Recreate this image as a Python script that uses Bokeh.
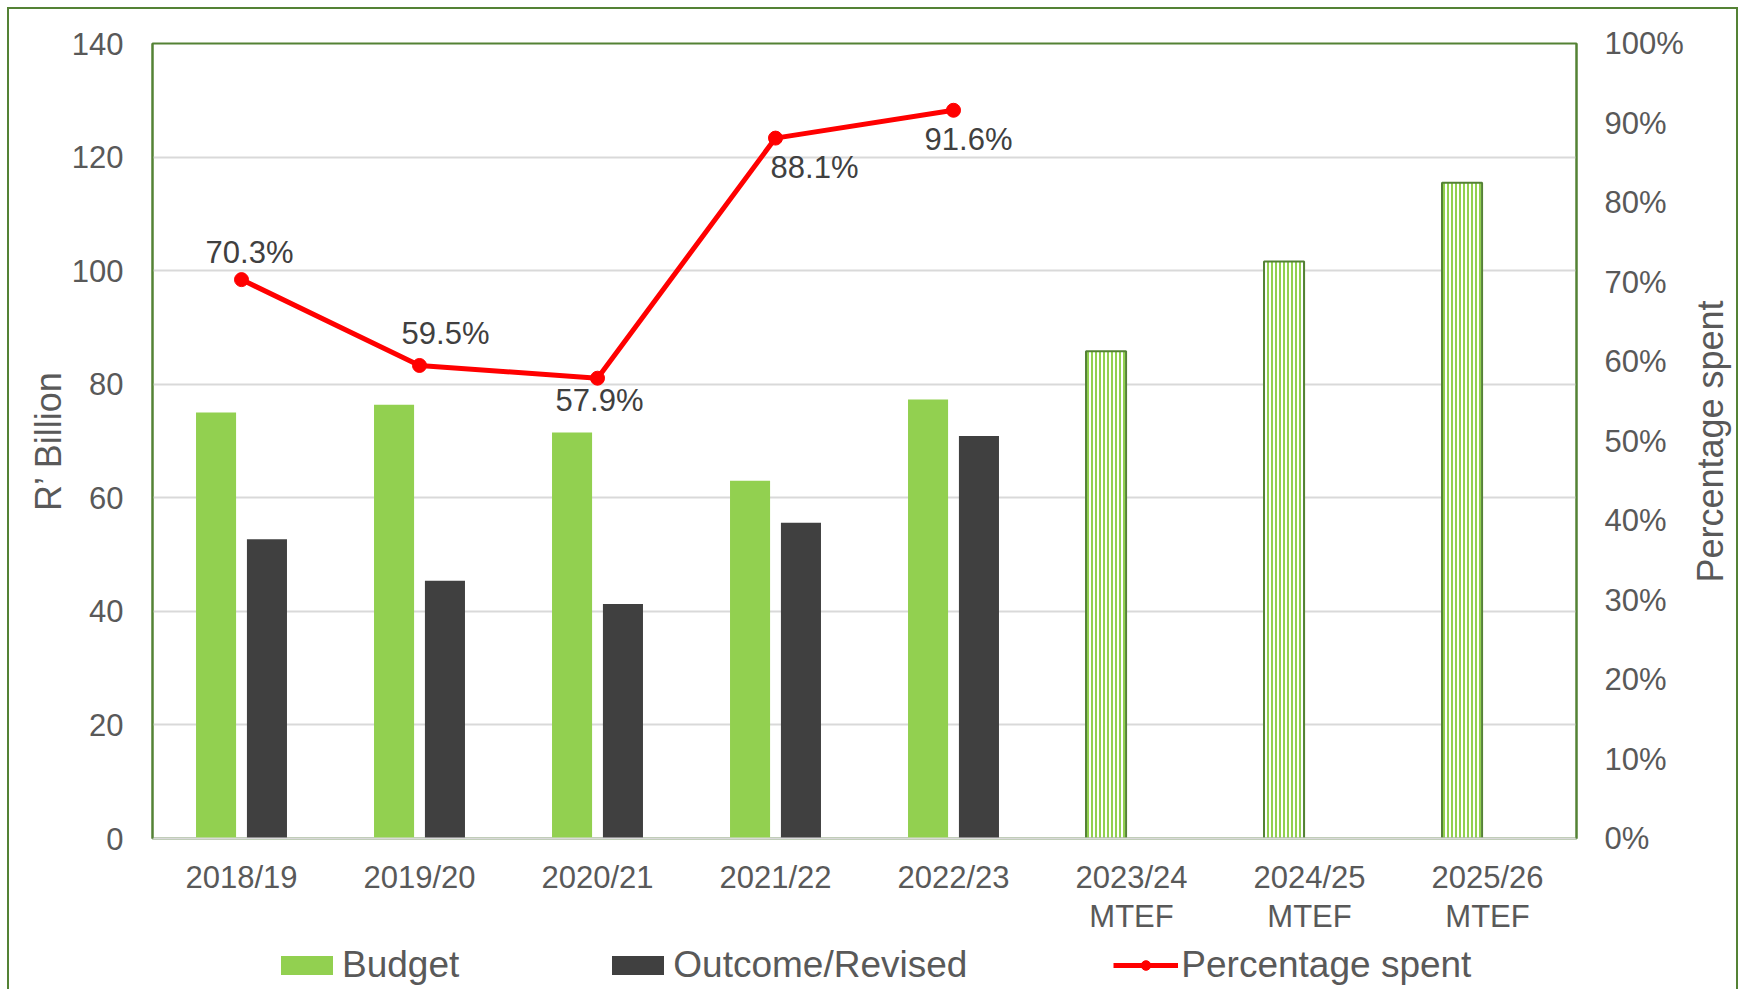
import math
from bokeh.plotting import figure
from bokeh.layouts import column, row
from bokeh.models import (ColumnDataSource, Range1d, LinearAxis, FixedTicker,
                          PrintfTickFormatter, Legend, LegendItem, LabelSet, Label)
from bokeh.transform import dodge
from bokeh.core.properties import value
from bokeh.embed import file_html
from bokeh.resources import INLINE

# ---------------- data ----------------
categories = ["2018/19", "2019/20", "2020/21", "2021/22", "2022/23",
              "2023/24\nMTEF", "2024/25\nMTEF", "2025/26\nMTEF"]
actual_years = ["2018/19", "2019/20", "2020/21", "2021/22", "2022/23"]
budget = [75.0, 76.4, 71.5, 63.0, 77.3]
outcome = [52.7, 45.4, 41.3, 55.6, 70.9]
mtef_years = ["2023/24\nMTEF", "2024/25\nMTEF", "2025/26\nMTEF"]
mtef_budget = [85.8, 101.6, 115.5]
pct_spent = [70.3, 59.5, 57.9, 88.1, 91.6]
pct_labels = ["70.3%", "59.5%", "57.9%", "88.1%", "91.6%"]
left_ticks = [0, 20, 40, 60, 80, 100, 120, 140]
right_ticks = [0, 10, 20, 30, 40, 50, 60, 70, 80, 90, 100]
legend_labels = ["Budget", "Outcome/Revised", "Percentage spent"]

# label placement (screen px) relative to each point
label_dx = [8, 26, 2, 39, 15]
label_dy = [27, 32, -22, -29, -29]

FONT = "Liberation Sans"
TXT = "#595959"
GREEN = "#92D050"
DARK = "#404040"
RED = "#FF0000"
FRAME_GREEN = "#548235"
GRID = "#D9D9D9"

src = ColumnDataSource(dict(year=actual_years, budget=budget, outcome=outcome,
                            pct=pct_spent, lab=pct_labels, dx=label_dx, dy=label_dy))
msrc = ColumnDataSource(dict(year=mtef_years, budget=mtef_budget))

# ---------------- main chart ----------------
p = figure(x_range=categories, y_range=Range1d(0, 140),
           width=1677, height=931, output_backend="svg", toolbar_location=None,
           min_border_left=143, min_border_right=108, min_border_top=34,
           min_border_bottom=102)
p.extra_y_ranges = {"pct": Range1d(0, 100)}

p.outline_line_color = FRAME_GREEN
p.outline_line_width = 2
p.background_fill_color = "white"
p.border_fill_color = "white"

p.xgrid.grid_line_color = None
p.ygrid.grid_line_color = GRID
p.ygrid.grid_line_width = 2
p.ygrid.ticker = FixedTicker(ticks=left_ticks)

BW = 0.225
OFF = 0.143
bar_budget = dict(fill_color=GREEN, line_color=None)
bar_outcome = dict(fill_color=DARK, line_color=None)
line_style = dict(line_color=RED, line_width=5)
marker_style = dict(size=14, fill_color=RED, line_color=RED)

p.vbar(x=dodge("year", -OFF, range=p.x_range), top="budget", width=BW,
       source=src, **bar_budget)
p.vbar(x=dodge("year", OFF, range=p.x_range), top="outcome", width=BW,
       source=src, **bar_outcome)
p.vbar(x=dodge("year", -OFF, range=p.x_range), top="budget", width=BW,
       source=msrc, fill_color="white", line_color=FRAME_GREEN, line_width=2,
       hatch_pattern="vertical_line", hatch_color=GREEN, hatch_scale=4,
       hatch_weight=2)

p.line(x="year", y="pct", source=src, y_range_name="pct", **line_style)
p.scatter(x="year", y="pct", source=src, y_range_name="pct", **marker_style)

labels = LabelSet(x="year", y="pct", text="lab", source=src, y_range_name="pct",
                  x_offset="dx", y_offset="dy", text_align="center",
                  text_baseline="middle", text_font=value(FONT),
                  text_font_size="31px", text_color=DARK)
p.add_layout(labels)

ya = p.yaxis[0]
ya.ticker = FixedTicker(ticks=left_ticks)
ya.axis_label = "R\u2019 Billion"
ya.axis_label_text_font = FONT
ya.axis_label_text_font_size = "36px"
ya.axis_label_text_font_style = "normal"
ya.axis_label_text_color = TXT
ya.axis_label_standoff = 0
ya.major_label_text_font = FONT
ya.major_label_text_font_size = "31px"
ya.major_label_text_color = TXT
ya.major_label_standoff = 23
ya.axis_line_color = FRAME_GREEN
ya.axis_line_width = 2
ya.major_tick_line_color = None
ya.minor_tick_line_color = None

ra = LinearAxis(y_range_name="pct", ticker=FixedTicker(ticks=right_ticks),
                formatter=PrintfTickFormatter(format="%d%%"))
ra.major_label_text_font = FONT
ra.major_label_text_font_size = "31px"
ra.major_label_text_color = TXT
ra.major_label_standoff = 22
ra.axis_line_color = FRAME_GREEN
ra.axis_line_width = 2
ra.major_tick_line_color = None
ra.minor_tick_line_color = None
p.add_layout(ra, "right")

xa = p.xaxis[0]
xa.major_label_text_font = FONT
xa.major_label_text_font_size = "31px"
xa.major_label_text_color = TXT
xa.major_label_text_line_height = 1.13
xa.major_label_standoff = 15
xa.axis_line_color = GRID
xa.axis_line_width = 2
xa.major_tick_line_color = None
xa.minor_tick_line_color = None

# ---------------- right-hand axis title (reads bottom-to-top) ----------------
p_right = figure(width=50, height=931, output_backend="svg", toolbar_location=None,
                 x_range=Range1d(0, 1), y_range=Range1d(0, 1),
                 x_axis_type=None, y_axis_type=None,
                 min_border_left=0, min_border_right=0, min_border_top=0,
                 min_border_bottom=0)
p_right.outline_line_color = None
p_right.grid.grid_line_color = None
p_right.background_fill_color = "white"
p_right.border_fill_color = "white"
# the row aligns this frame with the main chart's frame (795 px tall)
p_right.add_layout(Label(x=24, y=397, x_units="screen", y_units="screen",
                         text="Percentage spent", angle=math.pi / 2,
                         text_align="center", text_baseline="middle",
                         text_font=FONT, text_font_size="36px",
                         text_color=TXT))

# ---------------- legend strip ----------------
p_leg = figure(width=1727, height=49, output_backend="svg", toolbar_location=None,
               x_range=Range1d(0, 1), y_range=Range1d(0, 1),
               x_axis_type=None, y_axis_type=None,
               min_border_left=0, min_border_right=0, min_border_top=0,
               min_border_bottom=0)
p_leg.outline_line_color = None
p_leg.grid.grid_line_color = None
p_leg.background_fill_color = "white"
p_leg.border_fill_color = "white"
# legend proxies: kept outside the strip's visible range
lb = p_leg.vbar(x=[10], top=[10], bottom=[9], width=0.1, **bar_budget)
lo = p_leg.vbar(x=[10], top=[10], bottom=[9], width=0.1, **bar_outcome)
ll = p_leg.line(x=[10, 11], y=[10, 10], **line_style)
lc = p_leg.scatter(x=[10], y=[10], **marker_style)
legend = Legend(items=[LegendItem(label=legend_labels[0], renderers=[lb]),
                       LegendItem(label=legend_labels[1], renderers=[lo]),
                       LegendItem(label=legend_labels[2], renderers=[ll, lc])],
                orientation="horizontal", location=(265, 3),
                label_text_font=FONT, label_text_font_size="37px",
                label_text_color=TXT, glyph_width=65, glyph_height=24,
                label_standoff=3, spacing=146, border_line_color=None,
                background_fill_alpha=0, padding=0, margin=0)
p_leg.add_layout(legend, "center")

layout = column(row(p, p_right), p_leg)
layout.margin = (7, 0, 0, 7)
layout.styles = {"border": "2px solid " + FRAME_GREEN, "border-bottom": "none",
                 "background-color": "white"}

open("out.html", "w").write(file_html(layout, INLINE))
